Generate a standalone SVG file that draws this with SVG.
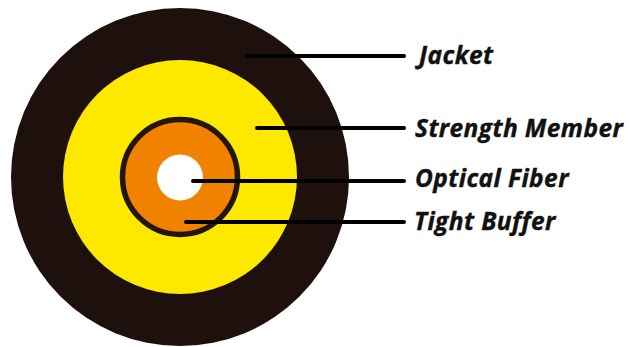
<svg xmlns="http://www.w3.org/2000/svg" width="631" height="347" viewBox="0 0 631 347">
<style>
.lbl{font-family:"Open Sans","Liberation Sans",sans-serif;font-weight:700;font-style:italic;font-size:24.5px;letter-spacing:.4px;fill:#111;stroke:#111;stroke-width:.4}
.ln{stroke:#000;stroke-width:4;stroke-linecap:round;fill:none}
</style>
<rect width="631" height="347" fill="#fff"/>
<g id="cable">
<circle id="jacket-ring" cx="180" cy="177" r="169" fill="#1e100d"/>
<circle id="strength-ring" cx="180" cy="177" r="117" fill="#fde800"/>
<circle id="buffer-ring" cx="180" cy="177" r="57.5" fill="#f08200" stroke="#24150e" stroke-width="5.5"/>
<circle id="fiber-core" cx="180" cy="177.5" r="23" fill="#fff"/>
</g>
<g id="connectors">
<line class="ln" x1="248" y1="56" x2="404" y2="56"/>
<line class="ln" x1="257" y1="128" x2="404" y2="128"/>
<line class="ln" x1="193" y1="181" x2="404" y2="181"/>
<line class="ln" x1="186" y1="222" x2="404" y2="222"/>
</g>
<g id="label-jacket"><text class="lbl" x="419" y="63.500" letter-spacing="1">Jacket</text></g>
<g id="label-strength"><text class="lbl" x="415" y="136.500">Strength Member</text></g>
<g id="label-fiber"><text class="lbl" x="415" y="186.500">Optical Fiber</text></g>
<g id="label-buffer"><text class="lbl" x="414" y="229.500">Tight Buffer</text></g>
</svg>
